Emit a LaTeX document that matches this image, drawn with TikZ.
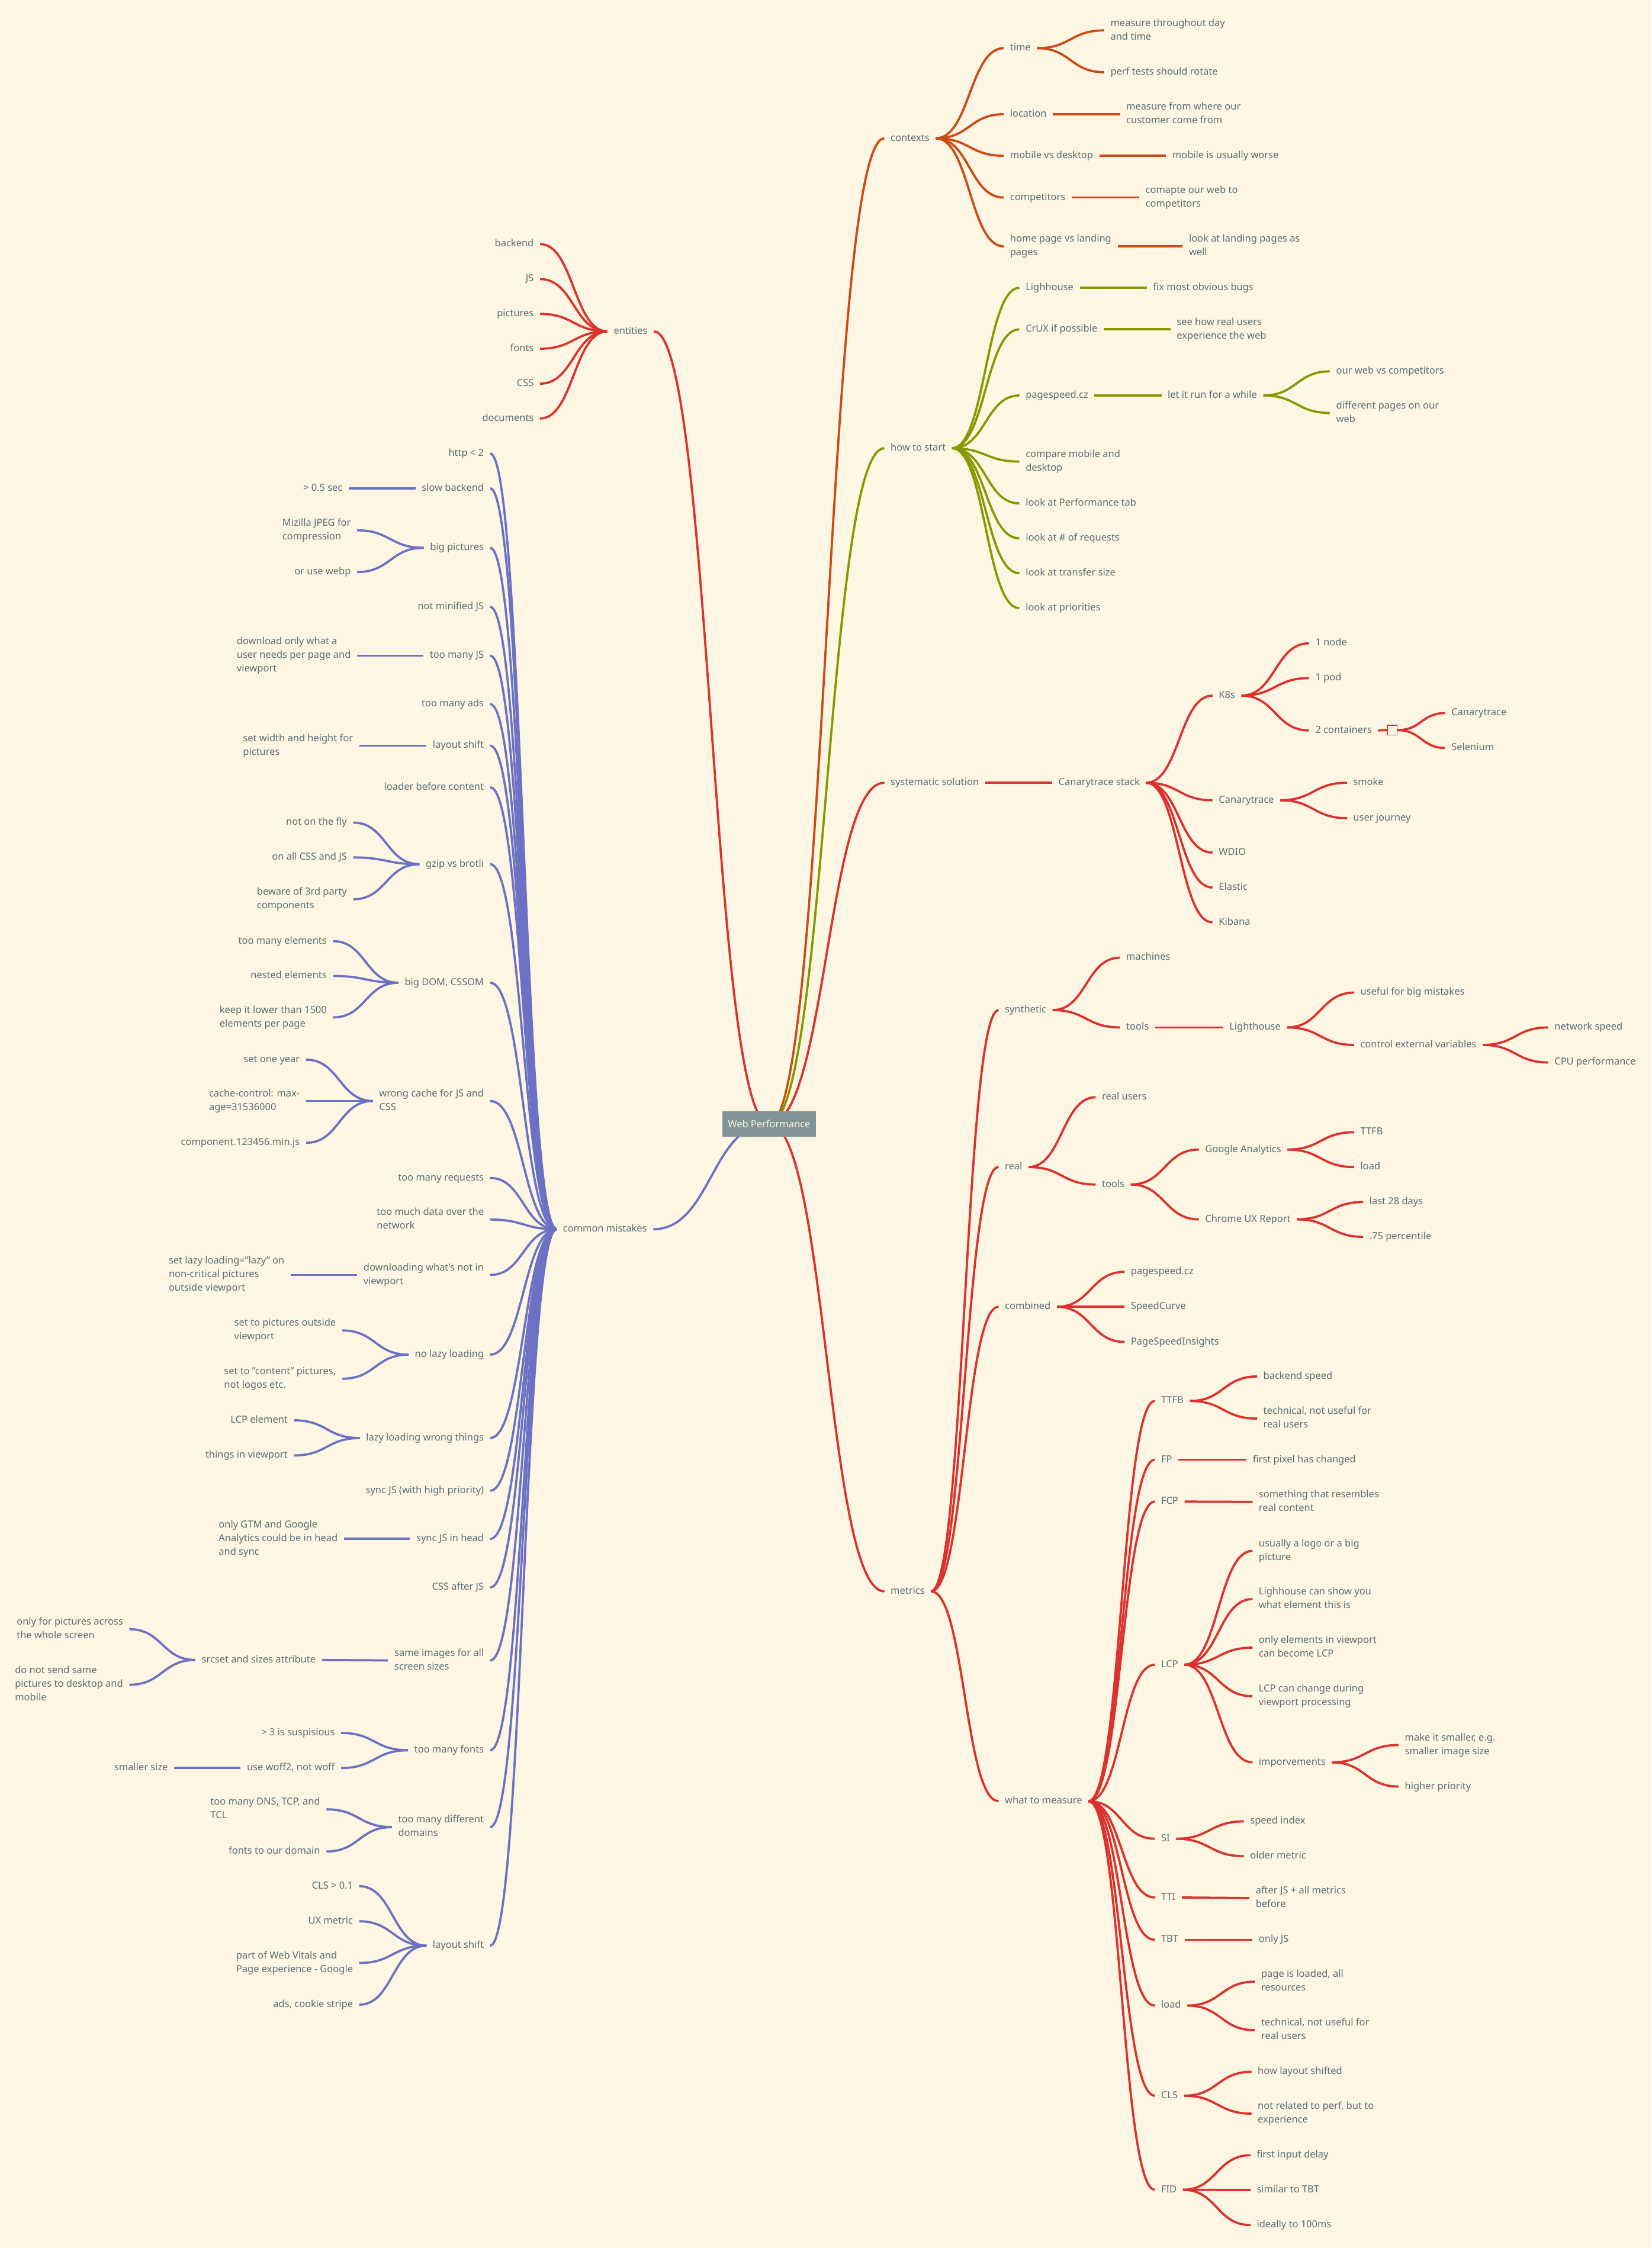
\documentclass[tikz,border=0pt]{standalone}
\usepackage{fontspec}
\setmainfont{Noto Sans}
\usetikzlibrary{calc,backgrounds}

\definecolor{paper}{HTML}{FDF6E3}
\definecolor{ink}{HTML}{586E75}
\definecolor{hubgrey}{HTML}{839496}
\definecolor{rust}{HTML}{CB4B16}
\definecolor{olive}{HTML}{859900}
\definecolor{crimson}{HTML}{DC322F}
\definecolor{lilac}{HTML}{6C71C4}

\tikzset{
  idea/.style={font=\fontsize{6.8}{9.5}\selectfont, text=ink, align=left,
    inner xsep=4.2pt, inner ysep=1pt,
    execute at begin node={\rule{0pt}{5.3pt}},
    execute at end node={\rule[-1.65pt]{0pt}{1.65pt}}},
  rt/.style={idea, anchor=west},
  lt/.style={idea, anchor=east},
  hubbox/.style={fill=hubgrey, text=paper, font=\fontsize{6.8}{9.5}\selectfont,
    minimum width=65.2pt, minimum height=17.6pt, inner sep=0pt},
  foldbox/.style={draw=crimson, fill=paper, line width=0.7pt, minimum size=6.9pt, inner sep=0pt},
  twig/.style={line width=1.55pt}
}

% horizontal S-curve from parent anchor to child anchor
\newcommand{\bough}[2]{\draw let \p1=(#1), \p2=(#2) in
  (\p1) .. controls ({(\x1+\x2)/2},\y1) and ({(\x1+\x2)/2},\y2) .. (\p2);}

\begin{document}
\begin{tikzpicture}[x=1pt,y=-1pt]
\path[use as bounding box] (0,0) rectangle (1152,1568.35);
\coordinate (hub) at (536.5,784.1);

% contexts
\node[rt] (ctx) at (616.9,96.5) {contexts};
\node[rt] (time) at (700.2,33.6) {time};
\node[rt] (t1) at (770.3,21.2) {measure throughout day\\and time};
\node[rt] (t2) at (770.3,50.4) {perf tests should rotate};
\node[rt] (loc) at (700.2,79.7) {location};
\node[rt] (loc1) at (781.3,79.7) {measure from where our\\customer come from};
\node[rt] (mob) at (700.2,108.7) {mobile vs desktop};
\node[rt] (mob1) at (813.4,108.7) {mobile is usually worse};
\node[rt] (comp) at (700.2,137.8) {competitors};
\node[rt] (comp1) at (794.7,137.8) {comapte our web to\\competitors};
\node[rt] (home) at (700.2,171.9) {home page vs landing\\pages};
\node[rt] (home1) at (825.0,171.9) {look at landing pages as\\well};

% how to start
\node[rt] (start) at (616.9,312.7) {how to start};
\node[rt] (lig) at (711.1,200.8) {Lighhouse};
\node[rt] (lig1) at (800.0,200.8) {fix most obvious bugs};
\node[rt] (crux) at (711.1,229.8) {CrUX if possible};
\node[rt] (crux1) at (816.5,229.8) {see how real users\\experience the web};
\node[rt] (psp) at (711.1,275.9) {pagespeed.cz};
\node[rt] (run) at (810.2,275.9) {let it run for a while};
\node[rt] (run1) at (927.7,259.1) {our web vs competitors};
\node[rt] (run2) at (927.7,288.1) {different pages on our\\web};
\node[rt] (cmp) at (711.1,322.0) {compare mobile and\\desktop};
\node[rt] (perf) at (711.1,351.2) {look at Performance tab};
\node[rt] (req) at (711.1,375.6) {look at \# of requests};
\node[rt] (size) at (711.1,399.9) {look at transfer size};
\node[rt] (prio) at (711.1,424.3) {look at priorities};

% systematic solution
\node[rt] (sys) at (616.9,546.1) {systematic solution};
\node[rt] (stack) at (734.0,546.1) {Canarytrace stack};
\node[rt] (k8s) at (845.8,485.3) {K8s};
\node[rt] (node1) at (913.2,448.8) {1 node};
\node[rt] (pod) at (913.2,473.1) {1 pod};
\node[rt] (cont) at (913.2,509.6) {2 containers};
\node[foldbox] (fold) at (971.1,509.4) {};
\node[rt] (ct2) at (1008.1,497.5) {Canarytrace};
\node[rt] (sel) at (1008.1,521.8) {Selenium};
\node[rt] (ct) at (845.8,558.3) {Canarytrace};
\node[rt] (smoke) at (939.6,546.1) {smoke};
\node[rt] (journey) at (939.6,570.8) {user journey};
\node[rt] (wdio) at (845.8,594.8) {WDIO};
\node[rt] (elastic) at (845.8,619.2) {Elastic};
\node[rt] (kibana) at (845.8,643.5) {Kibana};

% metrics
\node[rt] (metrics) at (616.9,1110.2) {metrics};
\node[rt] (syn) at (696.6,704.7) {synthetic};
\node[rt] (mach) at (781.3,668.1) {machines};
\node[rt] (stools) at (781.3,716.8) {tools};
\node[rt] (lh) at (853.2,716.8) {Lighthouse};
\node[rt] (lh1) at (944.6,692.5) {useful for big mistakes};
\node[rt] (lh2) at (944.6,729.0) {control external variables};
\node[rt] (net) at (1080.0,716.8) {network speed};
\node[rt] (cpu) at (1080.0,741.2) {CPU performance};
\node[rt] (real) at (696.6,814.2) {real};
\node[rt] (ru) at (764.3,765.5) {real users};
\node[rt] (rtools) at (764.3,826.4) {tools};
\node[rt] (ga) at (836.3,802.0) {Google Analytics};
\node[rt] (ga1) at (944.6,789.9) {TTFB};
\node[rt] (ga2) at (944.6,814.2) {load};
\node[rt] (crx) at (836.3,850.7) {Chrome UX Report};
\node[rt] (crx1) at (950.9,838.6) {last 28 days};
\node[rt] (crx2) at (950.9,862.9) {.75 percentile};
\node[rt] (comb) at (696.6,911.7) {combined};
\node[rt] (cb1) at (784.5,887.3) {pagespeed.cz};
\node[rt] (cb2) at (784.5,911.7) {SpeedCurve};
\node[rt] (cb3) at (784.5,936.2) {PageSpeedInsights};
\node[rt] (wtm) at (696.6,1256.6) {what to measure};
\node[rt] (ttfb) at (805.6,977.4) {TTFB};
\node[rt] (ttfb1) at (876.9,960.3) {backend speed};
\node[rt] (ttfb2) at (876.9,989.7) {technical, not useful for\\real users};
\node[rt] (fp) at (805.6,1018.4) {FP};
\node[rt] (fp1) at (869.5,1018.4) {first pixel has changed};
\node[rt] (fcp) at (805.6,1047.6) {FCP};
\node[rt] (fcp1) at (873.7,1047.8) {something that resembles\\real content};
\node[rt] (lcp) at (805.6,1161.4) {LCP};
\node[rt] (lcp1) at (873.7,1082.0) {usually a logo or a big\\picture};
\node[rt] (lcp2) at (873.7,1115.6) {Lighhouse can show you\\what element this is};
\node[rt] (lcp3) at (873.7,1149.5) {only elements in viewport\\can become LCP};
\node[rt] (lcp4) at (873.7,1183.4) {LCP can change during\\viewport processing};
\node[rt] (imp) at (873.7,1229.5) {imporvements};
\node[rt] (imp1) at (975.6,1217.4) {make it smaller, e.g.\\smaller image size};
\node[rt] (imp2) at (975.6,1246.4) {higher priority};
\node[rt] (si) at (805.6,1282.8) {SI};
\node[rt] (si1) at (867.7,1270.7) {speed index};
\node[rt] (si2) at (867.7,1295.0) {older metric};
\node[rt] (tti) at (805.6,1323.8) {TTI};
\node[rt] (tti1) at (871.6,1324.2) {after JS + all metrics\\before};
\node[rt] (tbt) at (805.6,1353.3) {TBT};
\node[rt] (tbt1) at (873.7,1353.3) {only JS};
\node[rt] (load) at (805.6,1399.2) {load};
\node[rt] (load1) at (875.4,1382.5) {page is loaded, all\\resources};
\node[rt] (load2) at (875.4,1416.4) {technical, not useful for\\real users};
\node[rt] (cls) at (805.6,1462.1) {CLS};
\node[rt] (cls1) at (873.0,1445.4) {how layout shifted};
\node[rt] (cls2) at (873.0,1474.6) {not related to perf, but to\\experience};
\node[rt] (fid) at (805.6,1527.7) {FID};
\node[rt] (fid1) at (872.3,1503.6) {first input delay};
\node[rt] (fid2) at (872.3,1527.9) {similar to TBT};
\node[rt] (fid3) at (872.3,1552.3) {ideally to 100ms};

% entities
\node[lt] (ent) at (456.1,231.2) {entities};
\node[lt] (backend) at (376.7,170.3) {backend};
\node[lt] (js) at (376.7,194.7) {JS};
\node[lt] (pics) at (376.7,219.0) {pictures};
\node[lt] (fonts) at (376.7,243.3) {fonts};
\node[lt] (css) at (376.7,267.7) {CSS};
\node[lt] (docs) at (376.7,292.0) {documents};

% common mistakes
\node[lt] (cm) at (455.7,857.6) {common mistakes};
\node[lt] (http) at (341.9,316.4) {http < 2};
\node[lt] (slow) at (341.9,340.7) {slow backend};
\node[lt] (slow1) at (243.3,340.7) {> 0.5 sec};
\node[lt] (bigpic) at (341.9,382.2) {big pictures};
\node[lt] (bp1) at (249.1,370.0) {Mizilla JPEG for\\compression};
\node[lt] (bp2) at (249.1,399.1) {or use webp};
\node[lt] (minjs) at (341.9,423.4) {not minified JS};
\node[lt] (manyjs) at (341.9,457.4) {too many JS};
\node[lt] (mj1) at (249.1,457.4) {download only what a\\user needs per page and\\viewport};
\node[lt] (ads) at (341.9,491.2) {too many ads};
\node[lt] (shiftA) at (341.9,520.2) {layout shift};
\node[lt] (sa1) at (250.6,520.2) {set width and height for\\pictures};
\node[lt] (loader) at (341.9,549.3) {loader before content};
\node[lt] (gzip) at (341.9,602.9) {gzip vs brotli};
\node[lt] (gz1) at (246.4,573.9) {not on the fly};
\node[lt] (gz2) at (246.4,598.2) {on all CSS and JS};
\node[lt] (gz3) at (246.4,627.4) {beware of 3rd party\\components};
\node[lt] (dom) at (341.9,685.6) {big DOM, CSSOM};
\node[lt] (dom1) at (232.3,656.6) {too many elements};
\node[lt] (dom2) at (232.3,680.9) {nested elements};
\node[lt] (dom3) at (232.3,709.8) {keep it lower than 1500\\elements per page};
\node[lt] (cache) at (341.9,768.1) {wrong cache for JS and\\CSS};
\node[lt] (ca1) at (213.5,739.3) {set one year};
\node[lt] (ca2) at (213.5,768.1) {cache-control: max-\\age=31536000};
\node[lt] (ca3) at (213.5,797.3) {component.123456.min.js};
\node[lt] (manyreq) at (341.9,821.8) {too many requests};
\node[lt] (data) at (341.9,850.8) {too much data over the\\network};
\node[lt] (notin) at (341.9,889.5) {downloading what's not in\\viewport};
\node[lt] (ni1) at (202.8,889.5) {set lazy loading="lazy" on\\non-critical pictures\\outside viewport};
\node[lt] (nolazy) at (341.9,945.1) {no lazy loading};
\node[lt] (nl1) at (238.7,928.2) {set to pictures outside\\viewport};
\node[lt] (nl2) at (238.7,961.9) {set to "content" pictures,\\not logos etc.};
\node[lt] (wrong) at (341.9,1003.3) {lazy loading wrong things};
\node[lt] (wr1) at (205.1,990.9) {LCP element};
\node[lt] (wr2) at (205.1,1015.4) {things in viewport};
\node[lt] (syncp) at (341.9,1040.0) {sync JS (with high priority)};
\node[lt] (synch) at (341.9,1073.6) {sync JS in head};
\node[lt] (sy1) at (239.9,1073.6) {only GTM and Google\\Analytics could be in head\\and sync};
\node[lt] (cssjs) at (341.9,1107.5) {CSS after JS};
\node[lt] (same) at (341.9,1158.4) {same images for all\\screen sizes};
\node[lt] (srcset) at (224.6,1158.1) {srcset and sizes attribute};
\node[lt] (ss1) at (90.2,1136.6) {only for pictures across\\the whole screen};
\node[lt] (ss2) at (90.2,1175.4) {do not send same\\pictures to desktop and\\mobile};
\node[lt] (fontsm) at (341.9,1221.1) {too many fonts};
\node[lt] (fo1) at (238.0,1209.0) {> 3 is suspisious};
\node[lt] (fo2) at (238.0,1233.5) {use woff2, not woff};
\node[lt] (fo21) at (121.5,1233.5) {smaller size};
\node[lt] (domains) at (341.9,1274.7) {too many different\\domains};
\node[lt] (do1) at (227.7,1262.3) {too many DNS, TCP, and\\TCL};
\node[lt] (do2) at (227.7,1291.7) {fonts to our domain};
\node[lt] (shiftB) at (341.9,1357.4) {layout shift};
\node[lt] (ls1) at (250.6,1315.9) {CLS > 0.1};
\node[lt] (ls2) at (250.6,1340.4) {UX metric};
\node[lt] (ls3) at (250.6,1369.5) {part of Web Vitals and\\Page experience - Google};
\node[lt] (ls4) at (250.6,1398.6) {ads, cookie stripe};

\begin{pgfonlayer}{background}
\fill[paper] (0,0) rectangle (1152,1568.35);
\begin{scope}[twig, draw=rust]
  \bough{hub}{ctx.west}
  \foreach \c in {time,loc,mob,comp,home} {\bough{ctx.east}{\c.west}}
  \bough{time.east}{t1.west} \bough{time.east}{t2.west}
  \bough{loc.east}{loc1.west} \bough{mob.east}{mob1.west}
  \bough{comp.east}{comp1.west} \bough{home.east}{home1.west}
\end{scope}
\begin{scope}[twig, draw=olive]
  \bough{hub}{start.west}
  \foreach \c in {lig,crux,psp,cmp,perf,req,size,prio} {\bough{start.east}{\c.west}}
  \bough{lig.east}{lig1.west} \bough{crux.east}{crux1.west}
  \bough{psp.east}{run.west}
  \bough{run.east}{run1.west} \bough{run.east}{run2.west}
\end{scope}
\begin{scope}[twig, draw=crimson]
  \bough{hub}{sys.west}
  \bough{sys.east}{stack.west}
  \foreach \c in {k8s,ct,wdio,elastic,kibana} {\bough{stack.east}{\c.west}}
  \foreach \c in {node1,pod,cont} {\bough{k8s.east}{\c.west}}
  \bough{cont.east}{fold.west}
  \bough{fold.east}{ct2.west} \bough{fold.east}{sel.west}
  \bough{ct.east}{smoke.west} \bough{ct.east}{journey.west}
  % metrics
  \bough{hub}{metrics.west}
  \foreach \c in {syn,real,comb,wtm} {\bough{metrics.east}{\c.west}}
  \bough{syn.east}{mach.west} \bough{syn.east}{stools.west}
  \bough{stools.east}{lh.west}
  \bough{lh.east}{lh1.west} \bough{lh.east}{lh2.west}
  \bough{lh2.east}{net.west} \bough{lh2.east}{cpu.west}
  \bough{real.east}{ru.west} \bough{real.east}{rtools.west}
  \bough{rtools.east}{ga.west} \bough{rtools.east}{crx.west}
  \bough{ga.east}{ga1.west} \bough{ga.east}{ga2.west}
  \bough{crx.east}{crx1.west} \bough{crx.east}{crx2.west}
  \foreach \c in {cb1,cb2,cb3} {\bough{comb.east}{\c.west}}
  \foreach \c in {ttfb,fp,fcp,lcp,si,tti,tbt,load,cls,fid} {\bough{wtm.east}{\c.west}}
  \bough{ttfb.east}{ttfb1.west} \bough{ttfb.east}{ttfb2.west}
  \bough{fp.east}{fp1.west} \bough{fcp.east}{fcp1.west}
  \foreach \c in {lcp1,lcp2,lcp3,lcp4,imp} {\bough{lcp.east}{\c.west}}
  \bough{imp.east}{imp1.west} \bough{imp.east}{imp2.west}
  \bough{si.east}{si1.west} \bough{si.east}{si2.west}
  \bough{tti.east}{tti1.west} \bough{tbt.east}{tbt1.west}
  \bough{load.east}{load1.west} \bough{load.east}{load2.west}
  \bough{cls.east}{cls1.west} \bough{cls.east}{cls2.west}
  \foreach \c in {fid1,fid2,fid3} {\bough{fid.east}{\c.west}}
  % entities
  \bough{hub}{ent.east}
  \foreach \c in {backend,js,pics,fonts,css,docs} {\bough{ent.west}{\c.east}}
\end{scope}
\begin{scope}[twig, draw=lilac]
  \bough{hub}{cm.east}
  \foreach \c in {http,slow,bigpic,minjs,manyjs,ads,shiftA,loader,gzip,dom,cache,manyreq,
    data,notin,nolazy,wrong,syncp,synch,cssjs,same,fontsm,domains,shiftB} {\bough{cm.west}{\c.east}}
  \bough{slow.west}{slow1.east}
  \bough{bigpic.west}{bp1.east} \bough{bigpic.west}{bp2.east}
  \bough{manyjs.west}{mj1.east} \bough{shiftA.west}{sa1.east}
  \foreach \c in {gz1,gz2,gz3} {\bough{gzip.west}{\c.east}}
  \foreach \c in {dom1,dom2,dom3} {\bough{dom.west}{\c.east}}
  \foreach \c in {ca1,ca2,ca3} {\bough{cache.west}{\c.east}}
  \bough{notin.west}{ni1.east}
  \bough{nolazy.west}{nl1.east} \bough{nolazy.west}{nl2.east}
  \bough{wrong.west}{wr1.east} \bough{wrong.west}{wr2.east}
  \bough{synch.west}{sy1.east}
  \bough{same.west}{srcset.east}
  \bough{srcset.west}{ss1.east} \bough{srcset.west}{ss2.east}
  \bough{fontsm.west}{fo1.east} \bough{fontsm.west}{fo2.east}
  \bough{fo2.west}{fo21.east}
  \bough{domains.west}{do1.east} \bough{domains.west}{do2.east}
  \foreach \c in {ls1,ls2,ls3,ls4} {\bough{shiftB.west}{\c.east}}
\end{scope}
\end{pgfonlayer}

\node[hubbox] (root) at (hub) {Web Performance};
\end{tikzpicture}
\end{document}
